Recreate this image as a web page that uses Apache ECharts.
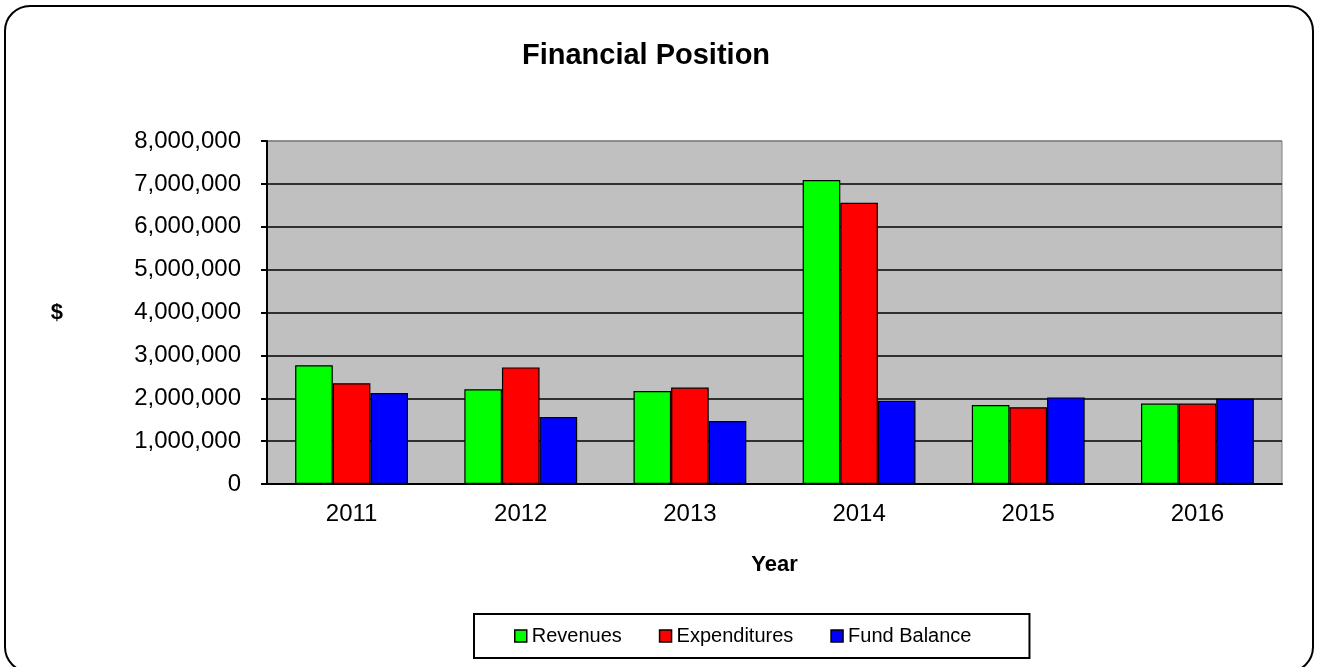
<!DOCTYPE html>
<html>
<head>
<meta charset="utf-8">
<title>Financial Position</title>
<script src="https://cdn.jsdelivr.net/npm/echarts@6/dist/echarts.min.js"></script>
<style>
  html, body { margin: 0; padding: 0; background: #fff; }
  #chart { width: 1319px; height: 667px; }
</style>
</head>
<body>
<div id="chart"></div>
<script>
const years = ['2011', '2012', '2013', '2014', '2015', '2016']
const revenues = [2770000, 2210000, 2170000, 7090000, 1840000, 1875000]
const expenditures = [2350000, 2720000, 2250000, 6560000, 1790000, 1875000]
const fundBalance = [2120000, 1560000, 1470000, 1940000, 2020000, 1990000]

const font = 'Liberation Sans, Arial, sans-serif'

const chart = echarts.init(document.getElementById('chart'))

function barSeries(name, color, data) {
  return {
    name,
    type: 'bar',
    data,
    barGap: '0%',
    barCategoryGap: '33.3%',
    itemStyle: { color, borderColor: '#000', borderWidth: 1.2 }
  }
}

chart.setOption({
  animation: false,
  textStyle: { fontFamily: font },
  graphic: [{
    type: 'rect',
    shape: { x: 5, y: 6, width: 1308, height: 666, r: 25 },
    style: { fill: 'none', stroke: '#000', lineWidth: 2 },
    z: 100
  }],
  title: {
    text: 'Financial Position',
    left: 641,
    top: 36,
    textAlign: 'center',
    textStyle: { fontFamily: font, fontSize: 29, fontWeight: 'bold', color: '#000' }
  },
  legend: {
    left: 474,
    top: 614,
    padding: [12, 58, 12, 40],
    borderColor: '#000',
    borderWidth: 2,
    itemWidth: 12,
    itemHeight: 12,
    itemGap: 37,
    icon: 'rect',
    itemStyle: { borderColor: '#000', borderWidth: 1.5 },
    textStyle: { fontFamily: font, fontSize: 20, color: '#000' },
    data: ['Revenues', 'Expenditures', 'Fund Balance']
  },
  grid: {
    left: 267,
    right: 37,
    top: 141,
    bottom: 183,
    show: true,
    backgroundColor: '#c0c0c0',
    borderColor: '#808080',
    borderWidth: 1
  },
  xAxis: {
    type: 'category',
    data: years,
    name: 'Year',
    nameLocation: 'middle',
    nameGap: 70,
    nameTextStyle: { fontFamily: font, fontSize: 22, fontWeight: 'bold', color: '#000' },
    axisLine: { lineStyle: { color: '#000', width: 2 } },
    axisTick: { length: 6, lineStyle: { color: '#000', width: 2 } },
    axisLabel: { margin: 18, fontFamily: font, fontSize: 24, color: '#000' }
  },
  yAxis: {
    type: 'value',
    min: 0,
    max: 8000000,
    interval: 1000000,
    name: '$',
    nameLocation: 'middle',
    nameRotate: 0,
    nameGap: 204,
    nameTextStyle: { fontFamily: font, fontSize: 22, fontWeight: 'bold', color: '#000' },
    axisLine: { show: true, lineStyle: { color: '#000', width: 2 } },
    axisTick: { show: true, length: 6, lineStyle: { color: '#000', width: 2 } },
    axisLabel: {
      margin: 26,
      padding: [9, 0, 0, 0],
      fontFamily: font,
      fontSize: 24,
      color: '#000',
      formatter: v => v.toLocaleString('en-US')
    },
    splitLine: {
      lineStyle: {
        color: ['#000', '#000', '#000', '#000', '#000', '#000', '#000', '#000', '#808080'],
        width: 1.5
      }
    }
  },
  series: [
    barSeries('Revenues', '#00ff00', revenues),
    barSeries('Expenditures', '#ff0000', expenditures),
    barSeries('Fund Balance', '#0000ff', fundBalance)
  ]
})
</script>
</body>
</html>
